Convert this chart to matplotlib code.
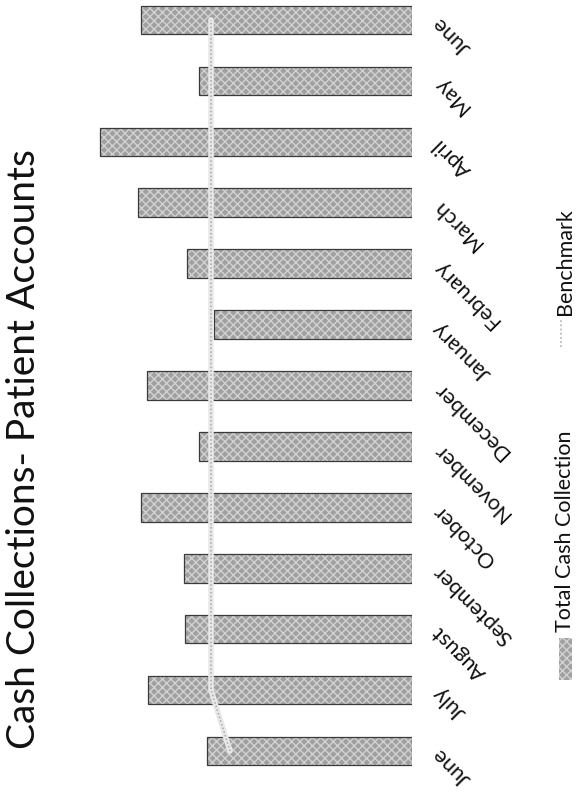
import matplotlib.pyplot as plt
from matplotlib.patches import Rectangle
from matplotlib.lines import Line2D

plt.rcParams['font.family'] = ['Lato', 'DejaVu Sans']

months = ['June', 'July', 'August', 'September', 'October', 'November',
          'December', 'January', 'February', 'March', 'April', 'May', 'June']
# monthly totals ($K)
cash = [205, 264, 227, 228, 271, 213, 265, 198, 225, 274, 312, 213, 271]
benchmark = [182, 201, 201, 201, 201, 201, 201, 201, 201, 201, 201, 201, 201]

W, H = 578, 794
fig = plt.figure(figsize=(W / 100, H / 100), dpi=100)
ax = fig.add_axes([90 / W, 0, 322 / W, 1])

pos = list(range(len(months)))
# textured gray bars, then a thin dark outline on top
ax.barh(pos, cash, height=0.47, color='#a0a0a0', edgecolor='#d2d2d2',
        hatch='xxxx', linewidth=0)
ax.barh(pos, cash, height=0.47, color='none', edgecolor='#3a3a3a', linewidth=0.9)

# benchmark line
ax.plot(benchmark, pos, color='#e8e8e8', lw=4, solid_capstyle='round', zorder=3)
ax.plot(benchmark, pos, color='#a8a8a8', lw=1.1, ls=(0, (1, 1.5)), zorder=4)

ax.set_xlim(0, 322)
ax.invert_xaxis()
ax.set_ylim(-0.706, 12.328)
ax.axis('off')

# month labels on the right side of the baseline
for i, m in enumerate(months):
    ax.text(1.0 + 24 / 322, i, m, transform=ax.get_yaxis_transform(),
            rotation=135, rotation_mode='anchor', ha='right', va='center',
            fontsize=15.5, color='#111111')

fig.text(6 / W, 1 - 449 / H, 'Cash Collections- Patient Accounts', rotation=90,
         ha='left', va='center', fontsize=28, color='#111111')

# legend, drawn sideways
fig.patches.append(Rectangle((559 / W, 1 - 680 / H), 13 / W, 42 / H,
                             transform=fig.transFigure, facecolor='#a0a0a0',
                             edgecolor='#d2d2d2', hatch='xxxx', linewidth=0))
fig.text(565 / W, 1 - 632 / H, 'Total Cash Collection', rotation=90,
         ha='center', va='bottom', fontsize=15.5, color='#111111')
fig.lines.append(Line2D([561 / W, 561 / W], [1 - 347 / H, 1 - 318 / H],
                        transform=fig.transFigure, color='#b0b0b0', lw=1.2,
                        ls=(0, (1, 1.5))))
fig.text(565 / W, 1 - 315 / H, 'Benchmark', rotation=90,
         ha='center', va='bottom', fontsize=15.5, color='#111111')

fig.savefig('out.png', dpi=100)
